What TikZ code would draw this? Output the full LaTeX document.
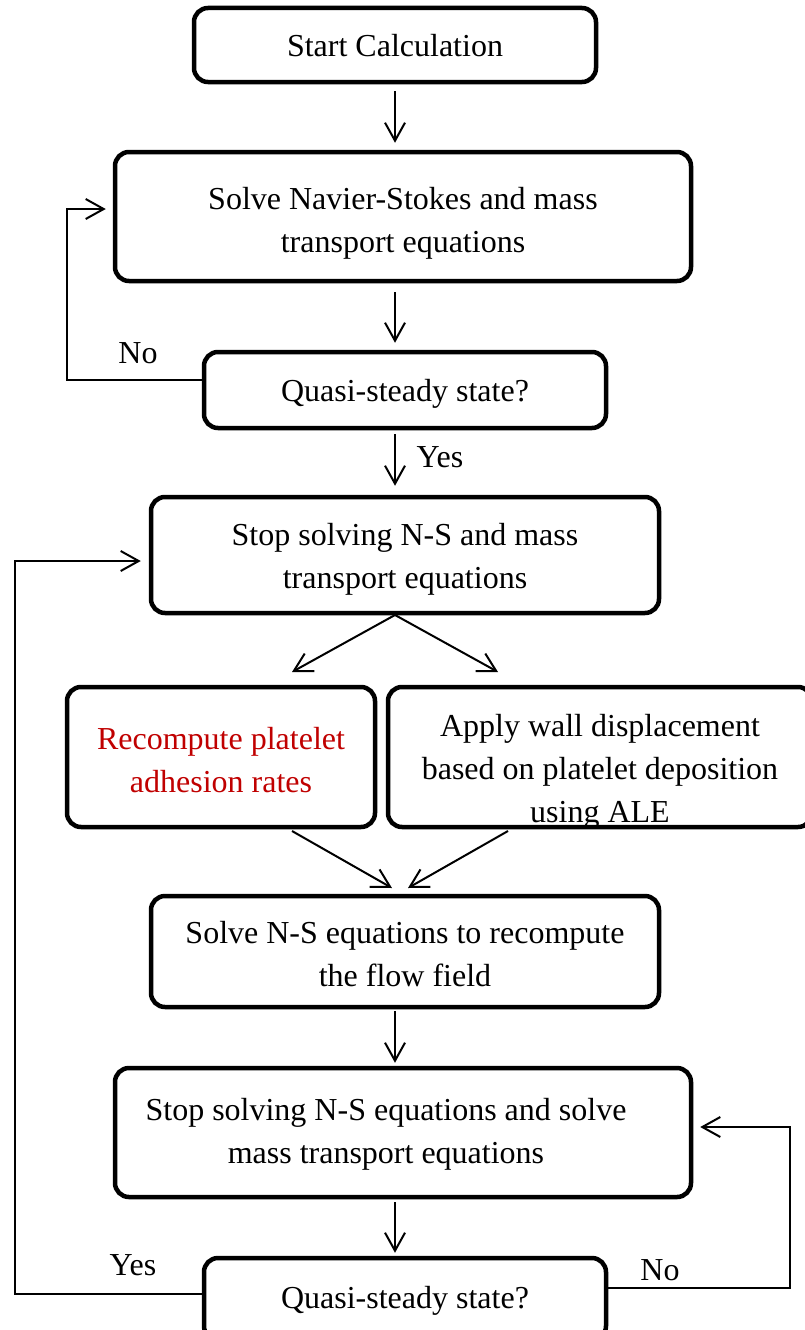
\documentclass[tikz,border=0pt]{standalone}
\usepackage{fontspec}
\setmainfont{Liberation Serif}
\usetikzlibrary{arrows.meta,calc}
\definecolor{redtxt}{HTML}{C00000}
\begin{document}
\begin{tikzpicture}[x=1pt,y=-1pt,
  box/.style={draw, line width=4.5pt, rounded corners=14pt, inner sep=0pt},
  txt/.style={align=center, inner sep=0pt, font=\fontsize{32}{43}\selectfont},
  conn/.style={line width=2pt, -{Straight Barb[length=18pt,width=20pt]}},
  lbl/.style={inner sep=0pt, font=\fontsize{32}{43}\selectfont}]
\useasboundingbox (0,0) rectangle (804,1330);

% boxes
\node[box, minimum width=402pt, minimum height=74pt]  (start)  at (395,45)     {};
\node[box, minimum width=576pt, minimum height=129pt] (solve1) at (403,216.5)  {};
\node[box, minimum width=402pt, minimum height=76pt]  (quasi1) at (405,390)    {};
\node[box, minimum width=508pt, minimum height=116pt] (stop1)  at (405,555)    {};
\node[box, minimum width=308pt, minimum height=140pt] (recomp) at (221,757)    {};
\node[box, minimum width=424pt, minimum height=140pt] (wall)   at (600,757)    {};
\node[box, minimum width=508pt, minimum height=111pt] (flow)   at (405,951.5)  {};
\node[box, minimum width=576pt, minimum height=129pt] (stop2)  at (403,1132.5) {};
\node[box, minimum width=402pt, minimum height=82pt]  (quasi2) at (405,1299)   {};

% box texts
\node[txt] (startt)  at (395,46)    {Start Calculation};
\node[txt] (solve1t) at (403,223.5) {Solve Navier-Stokes and mass\\transport equations};
\node[txt] (quasi1t) at (405,394)   {Quasi-steady state?};
\node[txt] (stop1t)  at (405,559)   {Stop solving N-S and mass\\transport equations};
\node[txt, text=redtxt] (recompt) at (221,760) {Recompute platelet\\adhesion rates};
\node[txt] (wallt)   at (600,772)   {Apply wall displacement\\based on platelet deposition\\using ALE};
\node[txt] (flowt)   at (405,954.5) {Solve N-S equations to recompute\\the flow field};
\node[txt] (stop2t)  at (386,1134)  {Stop solving N-S equations and solve\\mass transport equations};
\node[txt] (quasi2t) at (405,1301)  {Quasi-steady state?};

% labels
\node[lbl] (no1)  at (138,353)  {No};
\node[lbl] (yes1) at (440,457)  {Yes};
\node[lbl] (yes2) at (133,1265) {Yes};
\node[lbl] (no2)  at (660,1270) {No};

% helper coordinates
\coordinate (axis) at (395,0);
\coordinate (split) at (395,615);
\coordinate (bl) at (292,672);
\coordinate (br) at (498,672);
\coordinate (c1) at (292,831);
\coordinate (c1t) at (392,888);
\coordinate (c2) at (508,831);
\coordinate (c2t) at (408,888);
\coordinate (n1) at (67,380);
\coordinate (n1a) at (67,209);
\coordinate (y1) at (15,1294);
\coordinate (y2) at (15,561);
\coordinate (n2a) at (790,1288);
\coordinate (n2b) at (790,1127);

% vertical arrows
\draw[conn] ($(axis |- start.south)+(0,7)$)  -- ($(axis |- solve1.north)+(0,-7)$);
\draw[conn] ($(axis |- solve1.south)+(0,9)$) -- ($(axis |- quasi1.north)+(0,-7)$);
\draw[conn] ($(axis |- quasi1.south)+(0,4)$) -- ($(axis |- stop1.north)+(0,-9)$);
\draw[conn] ($(axis |- flow.south)+(0,2)$)   -- ($(axis |- stop2.north)+(0,-3)$);
\draw[conn] ($(axis |- stop2.south)+(0,3)$)  -- ($(axis |- quasi2.north)+(0,-3)$);

% branch and merge
\draw[conn] (split) -- (bl);
\draw[conn] (split) -- (br);
\draw[conn] (c1) -- (c1t);
\draw[conn] (c2) -- (c2t);

% loops
\draw[conn] (quasi1.west |- n1) -- (n1) -- (n1a) -- ($(solve1.west |- n1a)+(-7,0)$);
\draw[conn] (quasi2.west |- y1) -- (y1) -- (y2) -- ($(stop1.west |- y2)+(-8,0)$);
\draw[conn] (quasi2.east |- n2a) -- (n2a) -- (n2b) -- ($(stop2.east |- n2b)+(7,0)$);
\end{tikzpicture}
\end{document}
